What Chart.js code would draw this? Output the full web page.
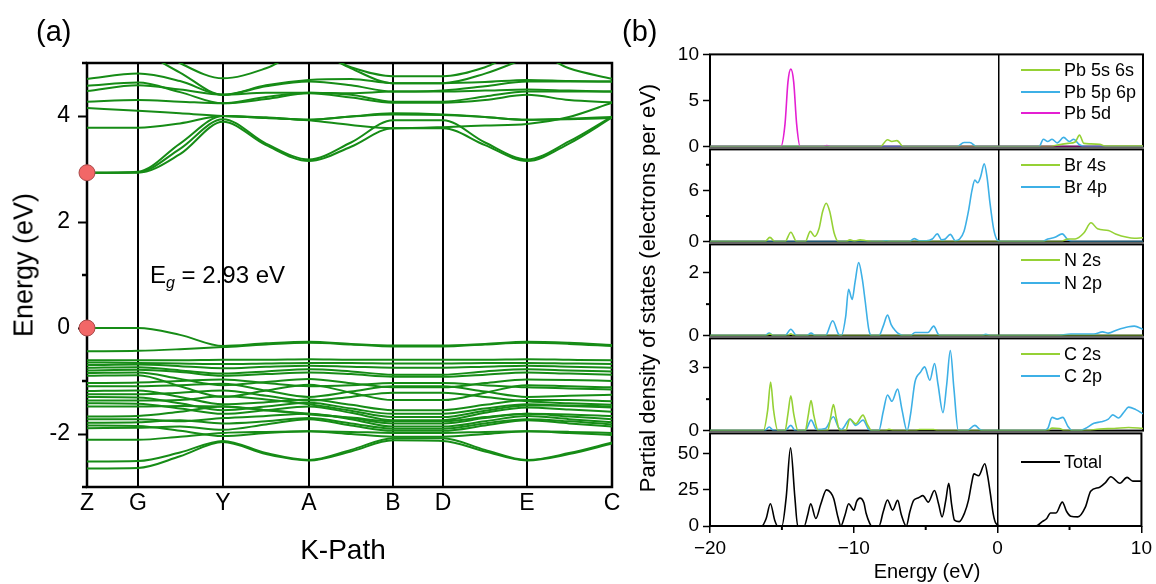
<!DOCTYPE html>
<html>
<head>
<meta charset="utf-8">
<script src="https://cdn.jsdelivr.net/npm/chart.js@4.4.0/dist/chart.umd.min.js"></script>
<style>
  body { margin: 0; background: #fff; }
  #wrap { position: relative; width: 1156px; height: 584px; overflow: hidden; background: #fff;
          font-family: "Liberation Sans", Arial, sans-serif; color: #000; }
  canvas { position: absolute; }
  .txt { position: absolute; white-space: nowrap; line-height: 1; }
  .rot { transform: translate(-50%, -50%) rotate(-90deg); }
  .ctr { transform: translate(-50%, -50%); }
  .key { position: absolute; height: 2px; width: 39px; }
</style>
</head>
<body>
<div id="wrap">
  <canvas id="bands" width="640" height="584" style="left:0;top:0"></canvas>
  <canvas id="dos1" width="516" height="123" style="left:640px;top:39px"></canvas>
  <canvas id="dos2" width="516" height="123" style="left:640px;top:134px"></canvas>
  <canvas id="dos3" width="516" height="122" style="left:640px;top:229px"></canvas>
  <canvas id="dos4" width="516" height="123" style="left:640px;top:323px"></canvas>
  <canvas id="dos5" width="516" height="166" style="left:640px;top:418px"></canvas>

  <div class="txt" style="left:36px;top:17px;font-size:29px">(a)</div>
  <div class="txt" style="left:622px;top:17px;font-size:29px">(b)</div>
  <div class="txt rot" style="left:24px;top:265px;font-size:27px">Energy (eV)</div>
  <div class="txt ctr" style="left:343px;top:550px;font-size:28px">K-Path</div>
  <div class="txt" style="left:150px;top:263px;font-size:24px">E<sub style="font-size:16px;font-style:italic;vertical-align:-5px">g</sub> = 2.93 eV</div>
  <div class="txt rot" style="left:648px;top:288px;font-size:22px">Partial density of states (electrons per eV)</div>
  <div class="txt ctr" style="left:927px;top:571px;font-size:20px">Energy (eV)</div>
  <div id="keys"></div>
</div>

<script>
// ---- (a) band structure: energies (eV) at sampled k-points along Z-G-Y-A-B-D-E-C
const kSample = [0, 51, 93, 136, 179, 222, 264, 306, 356, 398, 440, 482, 525];
const kTicks = [0, 51, 136, 222, 306, 356, 440, 525];
const kLabels = ['Z', 'G', 'Y', 'A', 'B', 'D', 'E', 'C'];

const valenceBands = [
  [0.00, 0.00, -0.13, -0.34, -0.29, -0.26, -0.30, -0.33, -0.33, -0.30, -0.26, -0.28, -0.32],
  [-0.44, -0.43, -0.40, -0.36, -0.31, -0.28, -0.31, -0.35, -0.35, -0.31, -0.28, -0.30, -0.34],
  [-0.61, -0.61, -0.61, -0.60, -0.60, -0.59, -0.60, -0.60, -0.60, -0.60, -0.59, -0.60, -0.61],
  [-0.65, -0.66, -0.67, -0.68, -0.67, -0.66, -0.66, -0.67, -0.67, -0.66, -0.66, -0.67, -0.68],
  [-0.70, -0.69, -0.72, -0.76, -0.73, -0.71, -0.73, -0.75, -0.75, -0.73, -0.71, -0.73, -0.75],
  [-0.75, -0.74, -0.80, -0.86, -0.82, -0.78, -0.82, -0.88, -0.88, -0.82, -0.78, -0.80, -0.82],
  [-0.80, -0.79, -0.83, -0.90, -0.87, -0.84, -0.87, -0.92, -0.92, -0.88, -0.84, -0.86, -0.88],
  [-0.85, -0.84, -0.96, -1.08, -1.02, -0.96, -1.04, -1.12, -1.12, -1.04, -0.97, -0.98, -1.00],
  [-0.90, -0.89, -1.10, -1.30, -1.18, -1.07, -1.22, -1.36, -1.36, -1.22, -1.08, -1.10, -1.12],
  [-1.04, -1.03, -1.00, -0.97, -1.04, -1.10, -1.08, -1.04, -1.04, -1.08, -1.12, -1.14, -1.16],
  [-1.10, -1.10, -1.08, -1.05, -1.18, -1.30, -1.20, -1.10, -1.10, -1.20, -1.30, -1.28, -1.26],
  [-1.19, -1.18, -1.30, -1.44, -1.40, -1.35, -1.45, -1.55, -1.55, -1.45, -1.36, -1.36, -1.38],
  [-1.25, -1.25, -1.22, -1.18, -1.28, -1.37, -1.30, -1.22, -1.22, -1.30, -1.38, -1.42, -1.45],
  [-1.30, -1.31, -1.42, -1.55, -1.48, -1.41, -1.52, -1.62, -1.62, -1.52, -1.44, -1.47, -1.50],
  [-1.37, -1.37, -1.36, -1.29, -1.35, -1.44, -1.56, -1.68, -1.68, -1.56, -1.46, -1.46, -1.48],
  [-1.42, -1.43, -1.52, -1.62, -1.55, -1.48, -1.60, -1.74, -1.74, -1.60, -1.50, -1.54, -1.58],
  [-1.48, -1.48, -1.47, -1.48, -1.55, -1.62, -1.70, -1.80, -1.80, -1.70, -1.62, -1.63, -1.66],
  [-1.67, -1.66, -1.58, -1.48, -1.55, -1.63, -1.69, -1.76, -1.76, -1.68, -1.62, -1.67, -1.72],
  [-1.72, -1.72, -1.76, -1.70, -1.66, -1.62, -1.72, -1.86, -1.86, -1.76, -1.66, -1.72, -1.78],
  [-1.79, -1.78, -1.74, -1.80, -1.76, -1.70, -1.80, -1.90, -1.90, -1.80, -1.72, -1.76, -1.82],
  [-1.89, -1.88, -1.86, -1.92, -1.82, -1.72, -1.84, -1.94, -1.94, -1.84, -1.74, -1.80, -1.86],
  [-1.84, -1.85, -1.94, -2.04, -1.98, -1.95, -2.00, -2.05, -2.05, -2.00, -1.95, -1.98, -2.02],
  [-2.11, -2.11, -2.05, -1.98, -1.96, -1.95, -1.96, -1.98, -1.98, -1.96, -1.95, -1.96, -1.98],
  [-2.52, -2.51, -2.35, -2.13, -2.36, -2.49, -2.30, -2.08, -2.08, -2.30, -2.49, -2.36, -2.16],
  [-2.65, -2.64, -2.42, -2.15, -2.38, -2.50, -2.33, -2.12, -2.13, -2.33, -2.50, -2.38, -2.18]
];

const conductionBands = [
  [2.93, 2.93, 3.28, 3.89, 3.45, 3.15, 3.42, 3.77, 3.77, 3.45, 3.15, 3.48, 3.97],
  [2.93, 2.94, 3.38, 3.94, 3.48, 3.18, 3.50, 3.92, 3.92, 3.50, 3.18, 3.52, 3.99],
  [2.93, 2.95, 3.48, 4.00, 3.97, 3.93, 3.99, 4.05, 4.03, 3.98, 3.93, 3.95, 3.98],
  [3.78, 3.78, 3.86, 4.00, 3.96, 3.92, 3.83, 3.77, 3.79, 3.82, 3.85, 3.98, 4.25],
  [4.15, 4.10, 4.05, 4.00, 3.97, 3.93, 3.99, 4.03, 4.02, 3.98, 3.93, 3.94, 3.96],
  [4.27, 4.30, 4.27, 4.24, 4.36, 4.44, 4.40, 4.27, 4.27, 4.37, 4.46, 4.46, 4.46],
  [4.47, 4.58, 4.50, 4.40, 4.56, 4.65, 4.58, 4.46, 4.48, 4.56, 4.65, 4.65, 4.65],
  [4.57, 4.63, 4.45, 4.24, 4.32, 4.43, 4.35, 4.25, 4.25, 4.30, 4.40, 4.30, 4.26],
  [4.70, 4.80, 4.66, 4.40, 4.58, 4.68, 4.70, 4.62, 4.62, 4.64, 4.68, 4.66, 4.65],
  [5.60, 5.25, 4.82, 4.40, 4.44, 4.44, 4.43, 4.46, 4.46, 4.48, 4.50, 4.48, 4.46],
  [5.80, 5.50, 5.00, 4.71, 4.90, 5.25, 4.92, 4.75, 4.75, 4.92, 5.25, 4.90, 4.70],
  [6.00, 6.00, 6.00, 5.80, 5.50, 5.30, 4.90, 4.62, 4.62, 4.80, 5.10, 5.40, 5.60]
];

// band edges marked at Z (CBM, VBM)
const edgePoints = [2.93, 0];

// ---- (b) partial DOS, [energy eV, states/eV]
const pb5s6s = [[-20,0],[-8.2,0],[-7.7,0.75],[-7.4,0.55],[-7.05,0.65],[-6.6,0],[3.6,0],[4.0,0.15],[4.8,0.35],[5.3,0.5],[5.6,1.25],[5.9,0.35],[6.3,0.3],[7.0,0.25],[7.4,0.05],[10,0.05]];
const pb5p6p = [[-20,0],[-2.9,0],[-2.4,0.45],[-2.0,0.45],[-1.5,0],[2.8,0],[3.1,0.8],[3.4,0.55],[3.7,0.8],[4.05,0.4],[4.5,1.0],[4.9,0.55],[5.2,0.8],[5.6,0.2],[6.0,0],[10,0]];
const pb5d = [[-20,0],[-15.1,0],[-14.8,2.5],[-14.6,7],[-14.4,8.4],[-14.2,7],[-14.0,2.5],[-13.75,0],[-12.2,0],[-11.9,0.12],[-11.6,0],[10,0]];

const br4s = [[-20,0],[-16.2,0],[-15.85,0.5],[-15.5,0],[-14.8,0],[-14.4,1.1],[-14.0,0],[-13.4,0],[-13.05,1.2],[-12.75,0.6],[-12.45,1.5],[-12.2,3.5],[-11.95,4.5],[-11.7,3.5],[-11.4,1.0],[-11.1,0],[-10.6,0],[-10.3,0.2],[-10.0,0.05],[-9.6,0.2],[-9.2,0.1],[-8.8,0],[4.3,0],[4.8,0.3],[5.3,0.3],[5.9,1.0],[6.4,2.2],[6.85,1.5],[7.6,1.3],[8.1,0.9],[8.9,0.5],[9.4,0.4],[10,0.45]];
const br4p = [[-20,0],[-8.2,0],[-7.8,0.08],[-7.4,0],[-6.2,0],[-5.85,0.35],[-5.5,0.1],[-5.0,0.1],[-4.6,0.3],[-4.25,0.9],[-3.95,0.2],[-3.7,0.3],[-3.35,0.85],[-3.0,0.1],[-2.7,0.3],[-2.4,1.2],[-2.1,3.5],[-1.85,6.0],[-1.65,7.2],[-1.45,6.9],[-1.25,7.6],[-1.0,9.1],[-0.8,7.5],[-0.6,4.5],[-0.35,1.5],[-0.1,0.2],[0.2,0],[3.0,0],[3.4,0.3],[3.9,0.5],[4.4,0.9],[4.8,0.2],[5.2,0],[10,0]];

const n2s = [[-20,0],[-16.1,0],[-15.85,0.05],[-15.6,0],[-14.6,0],[-14.4,0.06],[-14.2,0],[10,0]];
const n2p = [[-20,0],[-16.2,0],[-15.9,0.08],[-15.6,0],[-14.8,0],[-14.4,0.2],[-14.0,0],[-13.3,0],[-13.0,0.08],[-12.7,0],[-12.0,0],[-11.5,0.47],[-11.1,0.05],[-10.9,0],[-10.6,0.6],[-10.4,1.47],[-10.15,1.15],[-9.95,1.7],[-9.7,2.32],[-9.45,1.8],[-9.25,1.1],[-9.0,0.2],[-8.8,0],[-8.3,0],[-8.0,0.3],[-7.7,0.65],[-7.45,0.35],[-7.2,0.18],[-6.9,0.05],[-6.6,0],[-6.1,0],[-5.8,0.1],[-4.9,0.1],[-4.5,0.3],[-4.2,0.05],[-4.0,0],[-1.2,0],[-0.9,0.04],[-0.5,0],[4.0,0],[5.0,0.05],[6.6,0.05],[7.2,0.12],[7.6,0.08],[8.2,0.18],[9.0,0.28],[9.4,0.3],[10,0.2]];

const c2s = [[-20,0],[-16.3,0],[-16.0,1.0],[-15.8,2.32],[-15.6,1.0],[-15.3,0],[-14.8,0],[-14.6,0.8],[-14.4,1.66],[-14.2,0.8],[-13.9,0],[-13.4,0],[-13.2,0.7],[-13.0,1.43],[-12.8,0.7],[-12.5,0],[-11.85,0],[-11.65,0.6],[-11.45,1.24],[-11.25,0.6],[-11.0,0],[-10.6,0],[-10.3,0.55],[-9.9,0.32],[-9.4,0.74],[-9.1,0.3],[-8.8,0],[-7.9,0],[-7.6,0.06],[-7.2,0],[-5.8,0],[-5.5,0.05],[-4.5,0.05],[-4.2,0],[3.4,0],[3.7,0.12],[4.2,0.1],[4.6,0],[6.0,0],[7.0,0.08],[8.0,0.1],[9.0,0.15],[10,0.1]];
const c2p = [[-20,0],[-16.2,0],[-15.9,0.17],[-15.6,0],[-14.8,0],[-14.4,0.25],[-14.1,0],[-13.4,0],[-13.0,0.5],[-12.6,0.05],[-12.0,0.1],[-11.45,0.66],[-11.1,0.15],[-10.9,0.05],[-10.3,0.55],[-9.9,0.25],[-9.4,0.5],[-9.0,0.05],[-8.8,0],[-8.3,0],[-8.0,0.9],[-7.7,1.7],[-7.4,1.4],[-7.0,1.98],[-6.7,1.0],[-6.35,0],[-6.1,0.8],[-5.8,2.32],[-5.4,2.8],[-5.13,3.04],[-4.77,2.4],[-4.44,3.2],[-4.2,2.2],[-3.86,0.86],[-3.6,2.2],[-3.35,3.82],[-3.1,2.0],[-2.8,0],[-2.2,0],[-1.65,0.25],[-1.3,0.05],[-1.0,0],[3.0,0],[3.4,0.1],[3.7,0.63],[4.06,0.55],[4.44,0.63],[4.8,0.2],[5.1,0],[5.6,0],[6.0,0.1],[6.6,0.35],[7.1,0.42],[7.6,0.55],[7.9,0.75],[8.3,0.6],[8.7,0.9],[9.0,1.12],[9.5,1.0],[10,0.8]];

const dosTotal = [[-20,0],[-16.4,0],[-16.1,5],[-15.8,15.4],[-15.5,4],[-15.3,0],[-15.0,0],[-14.7,20],[-14.4,54],[-14.1,20],[-13.9,0],[-13.45,0],[-13.2,8],[-13.0,15.4],[-12.64,5.2],[-12.3,15],[-11.9,25],[-11.6,23],[-11.4,19],[-11.1,6],[-10.9,0],[-10.6,8],[-10.36,15.4],[-10.0,11],[-9.8,17],[-9.57,19.3],[-9.3,16],[-9.14,8.6],[-8.9,2],[-8.76,0],[-8.25,0],[-7.95,10],[-7.66,18],[-7.3,11],[-6.95,17.7],[-6.7,8],[-6.35,0],[-6.1,10],[-5.84,17.7],[-5.5,19.5],[-5.2,21],[-4.82,16.5],[-4.39,24.5],[-4.1,15],[-3.86,6.3],[-3.6,18],[-3.4,29.5],[-3.2,15],[-3.0,4],[-2.67,3],[-2.3,9],[-2.03,17.7],[-1.8,30],[-1.65,36],[-1.32,34.7],[-0.89,43],[-0.7,35],[-0.5,22],[-0.3,8],[-0.13,2],[0.25,0],[2.67,0],[3.1,3],[3.4,5],[3.68,9],[4.06,9],[4.5,16.5],[4.8,10],[5.08,6.8],[5.58,6.3],[6.1,13],[6.47,24],[7.1,26.8],[7.5,30],[7.87,34],[8.5,29.5],[9.0,33.6],[9.4,31],[10,31]];

const energyMajor = [-20, -10, 0, 10];
const energyMinor = [-15, -5, 5];

Chart.defaults.font.family = '"Liberation Sans", Arial, sans-serif';
Chart.defaults.color = '#000';

const GREEN = '#95d135', BLUE = '#3db0e6', MAGENTA = '#e41fd2', BAND = '#168c16';

// plot frame + minor tick marks
const frame = {
  id: 'frame',
  beforeDatasetsDraw(chart, args, opts) {
    const a = chart.chartArea, ctx = chart.ctx;
    ctx.save();
    ctx.strokeStyle = '#000';
    ctx.lineWidth = opts.width || 2;
    ctx.strokeRect(a.left, a.top, a.right - a.left, a.bottom - a.top);
    (opts.minor || []).forEach(({ axis, values, len }) => {
      const s = chart.scales[axis];
      values.forEach(v => {
        const p = s.getPixelForValue(v);
        ctx.beginPath();
        if (s.isHorizontal()) { ctx.moveTo(p, a.bottom); ctx.lineTo(p, a.bottom + len); }
        else { ctx.moveTo(a.left - len, p); ctx.lineTo(a.left, p); }
        ctx.stroke();
      });
    });
    ctx.restore();
  }
};

// ---- panel (a)
const bandSets = valenceBands.concat(conductionBands).map(b => ({
  data: b.map((e, i) => ({ x: kSample[i], y: e })),
  borderColor: BAND, borderWidth: 2, pointRadius: 0,
  cubicInterpolationMode: 'monotone', order: 1
}));
bandSets.push({
  data: edgePoints.map(e => ({ x: 0, y: e })),
  showLine: false, pointRadius: 8, pointBackgroundColor: '#f26767',
  pointBorderColor: '#a84a4a', pointBorderWidth: 1, clip: false, order: 0
});

new Chart(document.getElementById('bands'), {
  type: 'line',
  data: { datasets: bandSets },
  options: {
    responsive: false, animation: false,
    layout: { padding: { top: 63, right: 28, left: 0, bottom: 0 } },
    plugins: {
      legend: { display: false }, tooltip: { enabled: false },
      frame: { width: 2.5, minor: [{ axis: 'y', values: [-3, -1, 1, 3, 5], len: 5 }] }
    },
    scales: {
      x: {
        type: 'linear', min: 0, max: 525,
        afterBuildTicks: s => { s.ticks = kTicks.map(v => ({ value: v })); },
        afterFit: s => { s.height = 97; },
        ticks: { callback: (v, i) => kLabels[i], font: { size: 23 }, padding: 3, autoSkip: false, maxRotation: 0 },
        grid: { color: '#000', lineWidth: 2, drawTicks: false },
        border: { display: false }
      },
      y: {
        min: -3, max: 5,
        afterBuildTicks: s => { s.ticks = [-2, 0, 2, 4].map(v => ({ value: v })); },
        afterFit: s => { s.width = 87; },
        ticks: { callback: v => String(v), font: { size: 23 }, padding: 8 },
        grid: { drawOnChartArea: false, tickLength: 9, tickColor: '#000', tickWidth: 2 },
        border: { display: false }
      }
    }
  },
  plugins: [frame]
});

// ---- panel (b)
const dosPanels = [
  { id: 'dos1', names: ['Pb 5s 6s', 'Pb 5p 6p', 'Pb 5d'], series: [pb5s6s, pb5p6p, pb5d], colors: [GREEN, BLUE, MAGENTA],
    max: 10, major: [0, 5, 10], minor: [], top: 53, keyOffset: [17, 39, 60] },
  { id: 'dos2', names: ['Br 4s', 'Br 4p'], series: [br4s, br4p], colors: [GREEN, BLUE],
    max: 10.8, major: [0, 6], minor: [3, 9], top: 148, keyOffset: [17, 39] },
  { id: 'dos3', names: ['N 2s', 'N 2p'], series: [n2s, n2p], colors: [GREEN, BLUE],
    max: 2.9, major: [0, 2], minor: [1], top: 243, keyOffset: [17, 40] },
  { id: 'dos4', names: ['C 2s', 'C 2p'], series: [c2s, c2p], colors: [GREEN, BLUE],
    max: 4.4, major: [0, 3], minor: [1.5], top: 337, keyOffset: [17, 39] },
  { id: 'dos5', names: ['Total'], series: [dosTotal], colors: ['#000'],
    max: 64, major: [0, 25, 50], minor: [], top: 432, keyOffset: [30], bottom: true }
];

const fmt = v => (v < 0 ? '\u2212' + Math.abs(v) : String(v));

dosPanels.forEach(p => {
  const minor = [{ axis: 'y', values: p.minor, len: 4 }];
  if (p.bottom) minor.push({ axis: 'x', values: energyMinor, len: 4 });
  new Chart(document.getElementById(p.id), {
    type: 'line',
    data: {
      datasets: p.series.map((s, i) => ({
        label: p.names[i],
        data: s.map(([e, d]) => ({ x: e, y: d })),
        borderColor: p.colors[i], borderWidth: 1.6, pointRadius: 0,
        cubicInterpolationMode: 'monotone'
      }))
    },
    options: {
      responsive: false, animation: false,
      layout: { padding: { top: 14, right: 13, left: 0, bottom: p.bottom ? 0 : 14 } },
      plugins: { legend: { display: false }, tooltip: { enabled: false }, frame: { width: 2, minor } },
      scales: {
        x: {
          type: 'linear', min: -20, max: 10,
          afterBuildTicks: s => { s.ticks = energyMajor.map(v => ({ value: v })); },
          afterFit: s => { s.height = p.bottom ? 58 : 0; },
          ticks: { display: !!p.bottom, callback: v => fmt(v), font: { size: 19 }, padding: 4, maxRotation: 0 },
          grid: {
            color: c => (c.tick && c.tick.value === 0 ? '#000' : 'rgba(0,0,0,0)'),
            lineWidth: 1.5, drawTicks: !!p.bottom, tickLength: 7, tickColor: '#000', tickWidth: 1.5
          },
          border: { display: false }
        },
        y: {
          min: 0, max: p.max,
          afterBuildTicks: s => { s.ticks = p.major.map(v => ({ value: v })); },
          afterFit: s => { s.width = 70; },
          ticks: { callback: v => String(v), font: { size: 19 }, padding: 4 },
          grid: { drawOnChartArea: false, tickLength: 7, tickColor: '#000', tickWidth: 1.5 },
          border: { display: false }
        }
      }
    },
    plugins: [frame]
  });

  // legend keys inside each sub-panel
  const keys = document.getElementById('keys');
  p.names.forEach((n, i) => {
    const y = p.top + p.keyOffset[i];
    const line = document.createElement('div');
    line.className = 'key';
    line.style.left = '1021px';
    line.style.top = (y - 1) + 'px';
    line.style.background = p.colors[i];
    keys.appendChild(line);
    const t = document.createElement('div');
    t.className = 'txt';
    t.style.left = '1064px';
    t.style.top = (y - 9) + 'px';
    t.style.fontSize = '18px';
    t.textContent = n;
    keys.appendChild(t);
  });
});
</script>
</body>
</html>
